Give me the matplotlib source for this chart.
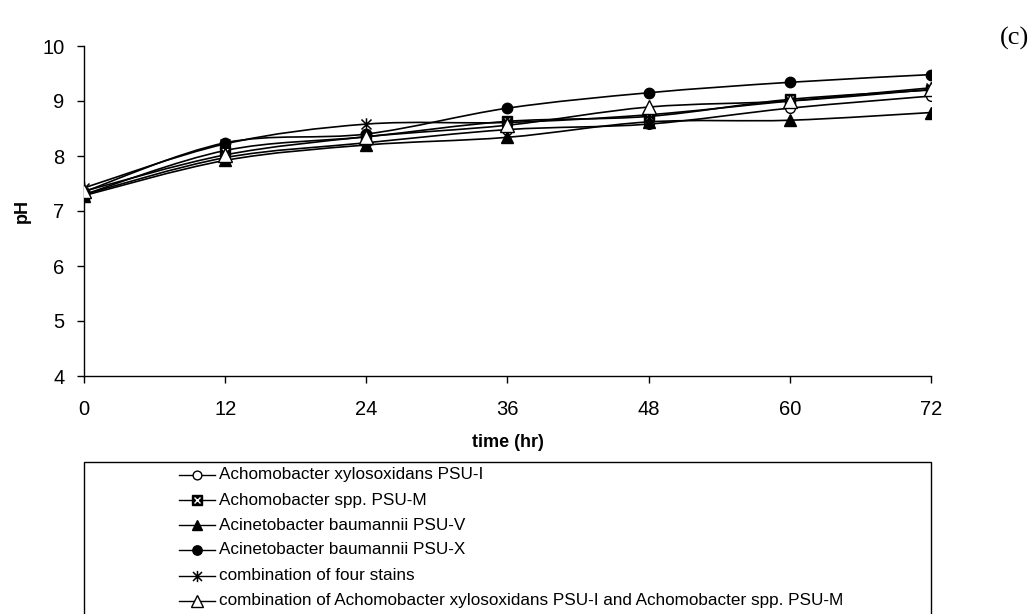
import matplotlib
matplotlib.use("Agg")
import matplotlib.pyplot as plt
from matplotlib.path import Path
from matplotlib.patches import PathPatch, Rectangle
from matplotlib.lines import Line2D
import numpy as np

plt.rcParams['font.family'] = ['Liberation Sans', 'DejaVu Sans']

# sampling times (hr) and measured pH
time_hr = [0, 12, 24, 36, 48, 60, 72]
ph_psu_i = [7.30, 7.97, 8.24, 8.48, 8.58, 8.87, 9.09]
ph_psu_m = [7.30, 8.10, 8.35, 8.63, 8.72, 9.03, 9.20]
ph_psu_v = [7.28, 7.92, 8.20, 8.34, 8.62, 8.65, 8.79]
ph_psu_x = [7.35, 8.24, 8.40, 8.87, 9.15, 9.34, 9.48]
ph_four = [7.42, 8.22, 8.58, 8.61, 8.75, 9.00, 9.24]
ph_combo = [7.36, 8.02, 8.35, 8.56, 8.89, 9.00, 9.21]

labels = [
    "Achomobacter xylosoxidans PSU-I",
    "Achomobacter spp. PSU-M",
    "Acinetobacter baumannii PSU-V",
    "Acinetobacter baumannii PSU-X",
    "combination of four stains",
    "combination of Achomobacter xylosoxidans PSU-I and Achomobacter spp. PSU-M",
]
x_ticks = [0, 12, 24, 36, 48, 60, 72]
y_ticks = [4, 5, 6, 7, 8, 9, 10]

# asterisk marker: an X with a vertical bar
star_path = Path(
    [(-1, -1), (1, 1), (-1, 1), (1, -1), (0, -1.25), (0, 1.25)],
    [Path.MOVETO, Path.LINETO, Path.MOVETO, Path.LINETO, Path.MOVETO, Path.LINETO],
)

styles = [
    dict(marker='o', ms=7, mfc='white', mec='black', mew=1.0),
    dict(marker='s', ms=7.5, mfc='black', mec='black', mew=1.0),
    dict(marker='^', ms=8.5, mfc='black', mec='black', mew=1.0),
    dict(marker='o', ms=7.5, mfc='black', mec='black', mew=1.0),
    dict(marker=star_path, ms=9, mfc='none', mec='black', mew=1.1),
    dict(marker='^', ms=9.5, mfc='white', mec='black', mew=1.0),
]
series = [ph_psu_i, ph_psu_m, ph_psu_v, ph_psu_x, ph_four, ph_combo]


def smooth_path(xs, ys):
    """Catmull-Rom style cubic Bezier path through the data points."""
    pts = np.column_stack([xs, ys]).astype(float)
    n = len(pts)
    verts = [pts[0]]
    codes = [Path.MOVETO]
    for i in range(n - 1):
        p0 = pts[i - 1] if i > 0 else pts[i]
        p1 = pts[i]
        p2 = pts[i + 1]
        p3 = pts[i + 2] if i + 2 < n else pts[i + 1]
        c1 = p1 + (p2 - p0) / 6.0
        c2 = p2 - (p3 - p1) / 6.0
        verts += [c1, c2, p2]
        codes += [Path.CURVE4] * 3
    return Path(verts, codes)


fig = plt.figure(figsize=(10.32, 6.14), dpi=100)
W, H = 1032, 614
ax = fig.add_axes([84 / W, 1 - 376 / H, (931 - 84) / W, (376 - 46) / H])

for ys in series:
    ax.add_patch(PathPatch(smooth_path(time_hr, ys), fill=False,
                           edgecolor='black', lw=1.2, zorder=2))

for k, (ys, st) in enumerate(zip(series, styles)):
    ax.plot(time_hr, ys, linestyle='none', zorder=3 + k, **st)
    if k == 1:
        ax.plot(time_hr, ys, linestyle='none', marker='x', ms=5,
                mec='white', mew=1.0, zorder=3 + k)

ax.set_xlim(0, 72)
ax.set_ylim(4, 10)
ax.set_xticks(x_ticks)
ax.set_yticks(y_ticks)
ax.tick_params(direction='out', length=5, width=1, labelsize=14.5)
ax.tick_params(axis='x', pad=12)
ax.tick_params(axis='y', pad=9)
ax.spines['top'].set_visible(False)
ax.spines['right'].set_visible(False)
for s in ('left', 'bottom'):
    ax.spines[s].set_linewidth(1.0)
ax.set_xlabel("time (hr)", fontsize=13, fontweight='bold', labelpad=11)
ax.set_ylabel("pH", fontsize=13, fontweight='bold', labelpad=8)

fig.text(1000 / W, 1 - 38 / H, "(c)", fontsize=19, family='Liberation Serif',
         ha='left', va='center')

# legend box, open at the bottom edge of the figure
fig.patches.append(Rectangle((84 / W, -0.05), (931 - 84) / W, 0.05 + 1 - 462 / H,
                             transform=fig.transFigure, fill=False,
                             edgecolor='black', lw=1.0))
row_y = [475, 500, 525, 550, 576, 601]
for lab, st, yy, k in zip(labels, styles, row_y, range(6)):
    yf = 1 - yy / H
    fig.lines.append(Line2D([179 / W, 215 / W], [yf, yf], transform=fig.transFigure,
                            color='black', lw=1.0))
    lst = dict(st)
    lst['ms'] = st['ms'] * 0.9
    fig.lines.append(Line2D([197 / W], [yf], transform=fig.transFigure,
                            linestyle='none', **lst))
    if k == 1:
        fig.lines.append(Line2D([197 / W], [yf], transform=fig.transFigure,
                                linestyle='none', marker='x', ms=4.5, mec='white', mew=1.0))
    fig.text(219 / W, yf, lab, fontsize=12.3, ha='left', va='center')

fig.savefig("out.png", dpi=100)
